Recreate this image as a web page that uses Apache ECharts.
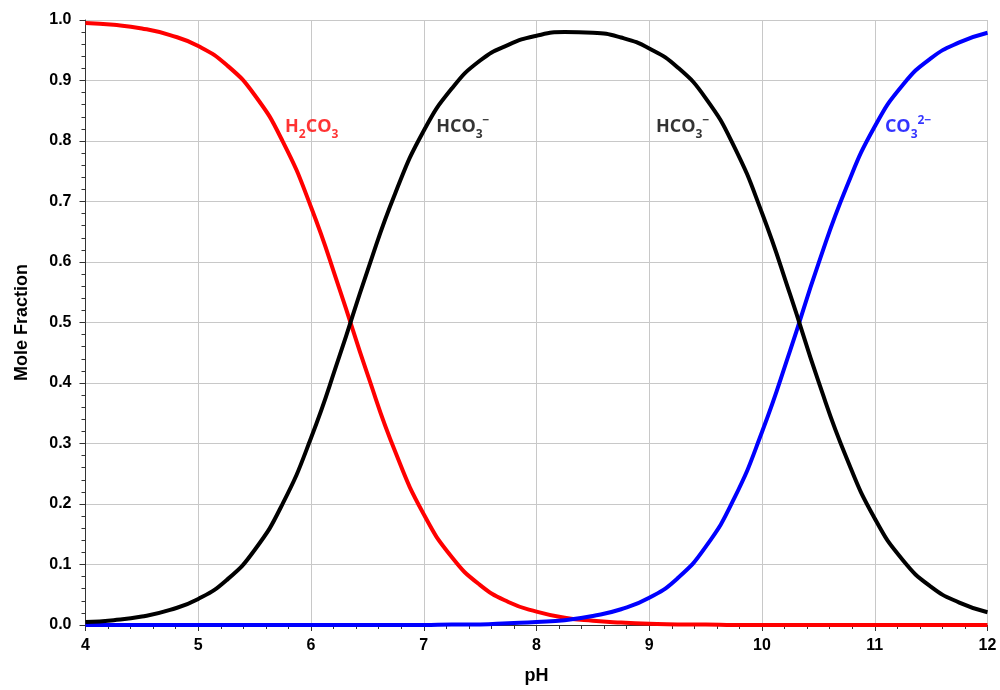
<!DOCTYPE html>
<html>
<head>
<meta charset="utf-8">
<title>Carbonate speciation</title>
<script src="https://cdn.jsdelivr.net/npm/echarts@6/dist/echarts.min.js"></script>
<style>
  html, body { margin: 0; padding: 0; background: #fff; }
  #chart { width: 1000px; height: 690px; }
</style>
</head>
<body>
<div id="chart"></div>
<script>
// pH values (x axis)
var pH = [4, 4.25, 4.5, 4.75, 5, 5.25, 5.5, 5.75, 6, 6.25, 6.5, 6.75, 7, 7.25, 7.5, 7.75,
          8, 8.25, 8.5, 8.75, 9, 9.25, 9.5, 9.75, 10, 10.25, 10.5, 10.75, 11, 11.25, 11.5, 11.75, 12];

// mole fractions
var h2co3 = [0.995, 0.992, 0.986, 0.975, 0.957, 0.926, 0.876, 0.799, 0.691, 0.557, 0.415, 0.285,
             0.183, 0.112, 0.066, 0.038, 0.022, 0.012, 0.007, 0.004, 0.002, 0.001, 0.001, 0,
             0, 0, 0, 0, 0, 0, 0, 0, 0];
var hco3 = [0.005, 0.008, 0.014, 0.025, 0.043, 0.074, 0.124, 0.201, 0.309, 0.443, 0.585, 0.715,
            0.817, 0.887, 0.933, 0.959, 0.974, 0.980, 0.979, 0.971, 0.953, 0.922, 0.871, 0.792,
            0.681, 0.546, 0.403, 0.276, 0.176, 0.107, 0.063, 0.037, 0.021];
var co3 = [0, 0, 0, 0, 0, 0, 0, 0, 0, 0, 0, 0,
           0, 0.001, 0.001, 0.003, 0.005, 0.008, 0.015, 0.026, 0.045, 0.077, 0.129, 0.208,
           0.319, 0.454, 0.597, 0.724, 0.824, 0.893, 0.937, 0.963, 0.979];

function pairs(ys) {
  return pH.map(function (x, i) { return [x, ys[i]]; });
}

var axisFont = 'Liberation Sans, Arial, sans-serif';
var tagFont = 'Open Sans, Noto Sans, sans-serif';

// rich text styles for the species labels
var tagRich = {
  n: { fontFamily: tagFont, fontWeight: 'bold', fontSize: 18, lineHeight: 26 },
  s: { fontFamily: tagFont, fontWeight: 'bold', fontSize: 12, lineHeight: 13, verticalAlign: 'bottom' },
  p: { fontFamily: tagFont, fontWeight: 'bold', fontSize: 12, lineHeight: 13, verticalAlign: 'top' }
};

function lineSeries(name, color, ys) {
  return {
    name: name,
    type: 'line',
    data: pairs(ys),
    smooth: true,
    showSymbol: false,
    lineStyle: { color: color, width: 4 },
    itemStyle: { color: color }
  };
}

var chart = echarts.init(document.getElementById('chart'));

var option = {
  animation: false,
  backgroundColor: '#ffffff',
  grid: { left: 85.5, right: 12.5, top: 20, bottom: 64 },
  xAxis: {
    type: 'value',
    min: 4, max: 12, interval: 1,
    name: 'pH',
    nameLocation: 'middle',
    nameGap: 42,
    nameTextStyle: { fontFamily: axisFont, fontWeight: 'bold', fontSize: 18, color: '#000' },
    axisLine: { show: true, onZero: false, lineStyle: { color: '#333', width: 1 } },
    axisTick: { show: true, inside: false, length: 6, lineStyle: { color: '#333' } },
    minorTick: { show: true, splitNumber: 5, length: 4, lineStyle: { color: '#333' } },
    axisLabel: { fontFamily: axisFont, fontWeight: 'bold', fontSize: 16, color: '#000', margin: 13 },
    splitLine: { show: true, lineStyle: { color: '#c8c8c8', width: 1 } }
  },
  yAxis: {
    type: 'value',
    min: 0, max: 1, interval: 0.1,
    name: 'Mole Fraction',
    nameLocation: 'middle',
    nameGap: 54,
    nameTextStyle: { fontFamily: axisFont, fontWeight: 'bold', fontSize: 18, color: '#000' },
    axisLine: { show: true, lineStyle: { color: '#333', width: 1 } },
    axisTick: { show: true, inside: false, length: 6, lineStyle: { color: '#333' } },
    minorTick: { show: true, splitNumber: 5, length: 4, lineStyle: { color: '#333' } },
    axisLabel: {
      fontFamily: axisFont, fontWeight: 'bold', fontSize: 16, color: '#000', margin: 14,
      formatter: function (v) { return v.toFixed(1); }
    },
    splitLine: { show: true, lineStyle: { color: '#c8c8c8', width: 1 } }
  },
  series: [
    lineSeries('H2CO3', '#ff0000', h2co3),
    lineSeries('CO3', '#0000ff', co3),
    lineSeries('HCO3', '#000000', hco3),
    {
      // species labels
      type: 'scatter',
      silent: true,
      symbolSize: 0,
      label: { show: true, position: 'right', distance: 0, rich: tagRich },
      data: [
        { value: [5.77, 0.823], label: { color: '#ff0000', formatter: '{n|H}{s|2}{n|CO}{s|3}' } },
        { value: [7.11, 0.823], label: { color: '#000000', formatter: '{n|HCO}{s|3}{p|\u2212}' } },
        { value: [9.06, 0.823], label: { color: '#000000', formatter: '{n|HCO}{s|3}{p|\u2212}' } },
        { value: [11.09, 0.823], label: { color: '#0000ff', formatter: '{n|CO}{s|3}{p|2\u2212}' } }
      ]
    }
  ]
};

chart.setOption(option);
</script>
</body>
</html>
